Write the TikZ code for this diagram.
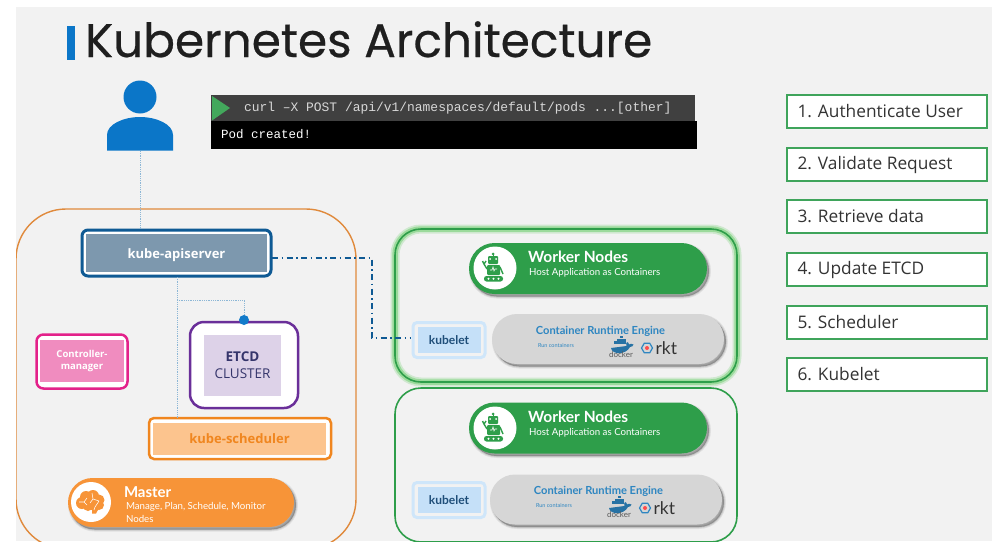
\documentclass[tikz,border=0pt]{standalone}
\usepackage{fontspec}
\setmainfont{Open Sans}
\newfontfamily\titlef[AutoFakeBold=0.5]{Poppins}
\newfontfamily\latof{Lato}
\newfontfamily\termf{Liberation Mono}
\usetikzlibrary{shadows,calc}
\newcommand\fs[1]{\fontsize{#1}{#1}\selectfont}
\definecolor{pagebg}{HTML}{F2F2F2}
\definecolor{kblue}{HTML}{0B76C8}
\definecolor{apiblue}{HTML}{0F5A94}
\definecolor{apifill}{HTML}{7D98AE}
\definecolor{morange}{HTML}{E08A3C}
\definecolor{schedo}{HTML}{F0861F}
\definecolor{schedf}{HTML}{FCC48E}
\definecolor{pillo}{HTML}{F79438}
\definecolor{pinkb}{HTML}{E3218A}
\definecolor{pinkf}{HTML}{F08CBF}
\definecolor{purp}{HTML}{6A2F99}
\definecolor{purpf}{HTML}{DDD2E8}
\definecolor{etcdt}{HTML}{35356B}
\definecolor{wgreen}{HTML}{2E9E4A}
\definecolor{kubb}{HTML}{CFE6FA}
\definecolor{kubf}{HTML}{C5E0F8}
\definecolor{kubt}{HTML}{1F4E79}
\definecolor{crefill}{HTML}{D6D6D6}
\definecolor{cret}{HTML}{2E86C1}
\definecolor{stepg}{HTML}{3FA45B}
\definecolor{dotline}{HTML}{8DB7D6}
\definecolor{termbar}{HTML}{404040}
\definecolor{termtxt}{HTML}{D8D8D8}
\tikzset{
  every node/.style={inner sep=0pt,outer sep=0pt},
  softshadow/.style={
    general shadow={shadow xshift=2pt,shadow yshift=-2.5pt,draw=black,fill=black,line width=4pt,opacity=.07},
    general shadow={shadow xshift=2pt,shadow yshift=-2.5pt,draw=black,fill=black,line width=2pt,opacity=.10},
    general shadow={shadow xshift=2pt,shadow yshift=-2.5pt,fill=black,opacity=.15}},
  glow/.style={
    preaction={draw=green!70!black,line width=9pt,opacity=.14},
    preaction={draw=green!70!black,line width=5.5pt,opacity=.25}},
  sized/.style 2 args={minimum width=#1,minimum height=#2},
  dotconn/.style={dotline,densely dotted,line width=.8pt},
  apiconn/.style={apiblue,line width=1.2pt,dash pattern=on 6pt off 3.5pt on 1.5pt off 3.5pt},
  stepbox/.style={draw=stepg,line width=1.4pt,fill=white,sized={200pt}{33pt}},
  steptxt/.style={anchor=west,font=\fs{17.3},text=black!80},
  wpill/.style={fill=wgreen,rounded corners=25.5pt,sized={238pt}{51pt},softshadow},
  crepill/.style={fill=crefill,rounded corners=25pt,sized={232pt}{50pt},softshadow},
  kubout/.style={draw=kubb,line width=3pt,rounded corners=4pt,fill=pagebg,sized={72pt}{35pt}},
  kubin/.style={fill=kubf,sized={63pt}{26pt},font=\latof\bfseries\fs{12},text=kubt},
  wbox/.style={draw=wgreen,line width=1.6pt,rounded corners=26pt,sized={342pt}{153pt}},
  whead/.style={anchor=west,font=\latof\bfseries\fs{15.5},text=white},
  wsub/.style={anchor=west,font=\latof\fs{9.7},text=white},
  cretxt/.style={font=\latof\bfseries\fs{11.1},text=cret},
  runtxt/.style={anchor=west,font=\latof\fs{5.5},text=cret},
  dockertxt/.style={font=\latof\fs{8},text=black!65},
  rkttxt/.style={anchor=west,font=\latof\fs{17.5},text=black!80},
  pics/robot/.style={code={
    \fill[white] (0,0) circle (21.5pt);
    \fill[wgreen] (-2,-14) circle (1.5pt);
    \draw[wgreen,line width=1pt] (-2,-14) -- (-2,-11);
    \fill[wgreen,rounded corners=1pt] (-7,-12) rectangle (3,-4);
    \fill[white] (-5,-9) circle (1pt) (1,-9) circle (1pt);
    \fill[wgreen,rounded corners=1pt] (-8,-3) rectangle (5,7);
    \draw[white,line width=.6pt] (-5,2) -- (-3,2) -- (-2,-1) -- (-1,3) -- (0,1) -- (2,1);
    \draw[wgreen,line width=1.4pt] (-8,1) -- (-11,-4) (-12.5,-7) -- (-11,-4) -- (-9,-7);
    \draw[wgreen,line width=1.4pt] (5,-1) -- (8,6);
    \fill[wgreen,rounded corners=2.5pt] (-11,8) rectangle (8,13.5);
    \fill[white] (-6.5,10.7) circle (1.1pt) (-1.5,10.7) circle (1.1pt) (3.5,10.7) circle (1.1pt);
  }},
  pics/whale/.style={code={
    \fill[cret!85!black] (-11,2) .. controls (-10,9) and (4,9) .. (8,1) .. controls (10,1) and (11,0) .. (11.5,-1.5) .. controls (10,-2.5) and (8,-2.5) .. (7,-1.5) .. controls (7,-3) and (6,-4) .. (5,-4) .. controls (4,-3) and (4,-1.5) .. (4.5,0) -- cycle;
    \foreach \x in {-8,-5,-2,1} {\fill[cret!85!black] (\x,-2.5) rectangle ++(2.5pt,2.2pt);}
    \foreach \x in {-5,-2,1} {\fill[cret!85!black] (\x,-5.2) rectangle ++(2.5pt,2.2pt);}
    \fill[cret!85!black] (-2,-7.9) rectangle ++(2.5pt,2.2pt);
  }},
  pics/rktlogo/.style={code={
    \draw[cret,line width=1.2pt] (0:5.5pt) -- (60:5.5pt) -- (120:5.5pt) -- (180:5.5pt) -- (240:5.5pt) -- (300:5.5pt) -- cycle;
    \fill[red!60!pink] (0,0) circle (2pt);
  }},
  pics/brain/.style={code={
    \fill[pillo] (-5,-5) circle (6pt) (2,-6) circle (6pt) (8,-2) circle (5.5pt) (-9,1) circle (6pt) (0,0) circle (8pt) (8,3) circle (5pt) (-3,4) circle (5pt);
    \fill[pillo] (1,3) -- (8,6) -- (5,11.5) -- (1,11.5) -- cycle;
    \draw[white,line width=.55pt] (-12,0) -- (-7,0) -- (-4,-4) (-7,0) -- (-4,3) (1,-9) -- (2,-3) -- (-1,1) (2,-3) -- (8,-1) (8,-1) -- (4,5) -- (3,8);
  }},
}
\begin{document}
\begin{tikzpicture}[x=1pt,y=-1pt]
\useasboundingbox (0,0) rectangle (992,554);
\fill[white] (0,0) rectangle (992,554);
\fill[pagebg] (16,7) rectangle (992,541);

% title
\fill[kblue] (67,26) rectangle (75,60);
\node[anchor=base west,font=\titlef\bfseries\fs{47},text=black!88] (title) at (85,57) {Kubernetes Architecture};

% user
\node[sized={66pt}{71pt}] (user) at (140,115.5) {};
\fill[kblue] (140,97) circle (16.5pt);
\fill[kblue] (107,150.5) -- (107,135) .. controls (107,124) and (124,117) .. (140,117) .. controls (156,117) and (173,124) .. (173,135) -- (173,150.5) -- cycle;

% terminal
\node[fill=termbar,sized={484pt}{26pt}] (bar) at (453,108) {};
\node[fill=black,sized={486pt}{28pt}] (term) at (454,135) {};
\fill[wgreen!90!white] (212,96) -- (230,108) -- (212,120.5) -- cycle;
\node[anchor=west,font=\termf\fs{12.95},text=termtxt] (cmd) at (244,108) {curl –X POST /api/v1/namespaces/default/pods ...[other]};
\node[anchor=west,font=\termf\fs{12.5},text=white] (pod) at (221,134.5) {Pod created!};

% master
\begin{scope}
\clip (16,7) rectangle (992,541);
\node[draw=morange,line width=1.4pt,rounded corners=50pt,sized={340pt}{340pt}] (master) at (186,379) {};
\node[wbox,sized={342pt}{154pt}] (wbox2) at (566,465) {};
\end{scope}

\node[draw=apiblue,line width=3pt,rounded corners=6pt,fill=white,sized={189pt}{46pt}] (api) at (176.5,253) {};
\node[fill=apifill,sized={181pt}{38pt},font=\bfseries\fs{13},text=white,text height=12.5pt,text depth=2.5pt] (apit) at (176.5,253) {kube-apiserver};

\node[draw=pinkb,line width=2.5pt,rounded corners=7pt,fill=white,sized={91pt}{54pt}] (ctrl) at (82,361.5) {};
\node[fill=pinkf,sized={84pt}{42pt},font=\bfseries\fs{9.5},align=center,text=white] (ctrlt) at (82,361) {Controller-\\[2pt]manager};

\node[draw=purp,line width=2.5pt,rounded corners=14pt,fill=white,sized={108pt}{86pt}] (etcd) at (244,365) {};
\node[fill=purpf,sized={77pt}{61pt},align=center,text=etcdt] (etcdt) at (242.5,365.5) {\bfseries\fs{13.5}ETCD\\[5pt]\fs{13.5}CLUSTER};

\node[draw=schedo,line width=2.5pt,rounded corners=5pt,fill=white,sized={182pt}{41pt}] (sched) at (240,438.5) {};
\node[fill=schedf,sized={173pt}{32pt},font=\bfseries\fs{13},text=schedo] (schedt) at (239.5,439) {kube-scheduler};

\node[fill=pillo,rounded corners=24.5pt,sized={226pt}{49pt},softshadow] (mpill) at (181,502.5) {};
\fill[white] (91,502) circle (20pt);
\pic at (91,502) {brain};
\node[anchor=west,font=\latof\bfseries\fs{15},text=white] (mh) at (124,492) {Master};
\node[anchor=west,font=\latof\fs{9.7},text=white] (ms1) at (126,506.5) {Manage, Plan, Schedule, Monitor};
\node[anchor=west,font=\latof\fs{9.7},text=white] (ms2) at (126,518.5) {Nodes};

% worker 1
\node[wbox,glow,sized={342pt}{153pt}] (wbox1) at (566,305.5) {};
\node[wpill] (wp1) at (588,268.5) {};
\pic at (495,268) {robot};
\node[whead] (wh1) at (528,257) {Worker Nodes};
\node[wsub] (ws1) at (529,272.5) {Host Application as Containers};
\node[kubout] (ko1) at (449,340) {};
\node[kubin] (kubelet1) at (449,340) {kubelet};
\node[crepill] (cre1) at (608,339) {};
\node[cretxt] (ct1) at (600.5,331.5) {Container Runtime Engine};
\node[runtxt] (rc1) at (538,346) {Run containers};
\pic at (622,346) {whale};
\node[dockertxt] (dk1) at (621,355) {docker};
\pic at (647,348) {rktlogo};
\node[rkttxt] (rk1) at (655.5,348) {rkt};

% worker 2
\node[wpill] (wp2) at (588,428) {};
\pic at (495,428) {robot};
\node[whead] (wh2) at (528,417) {Worker Nodes};
\node[wsub] (ws2) at (529,432.5) {Host Application as Containers};
\node[kubout] (ko2) at (449,500) {};
\node[kubin] (kubelet2) at (449,500) {kubelet};
\node[crepill] (cre2) at (606,499.5) {};
\node[cretxt] (ct2) at (598.5,491.5) {Container Runtime Engine};
\node[runtxt] (rc2) at (536,506) {Run containers};
\pic at (620,506) {whale};
\node[dockertxt] (dk2) at (619,515) {docker};
\pic at (645,508) {rktlogo};
\node[rkttxt] (rk2) at (653.5,508) {rkt};

% connectors
\draw[dotconn] (user.south) -- (user.south |- api.north);
\coordinate (apidown) at (177,277);
\coordinate (tap) at (177,300);
\coordinate (etcdtop) at (244,320);
\draw[dotconn] (apidown) -- (apidown |- sched.north);
\draw[dotconn] (tap) -- (etcdtop |- tap) -- (etcdtop);
\fill[cyan!60!blue] (etcdtop) circle (5pt);
\coordinate (apiout) at (272,258);
\coordinate (bend) at (372,258);
\coordinate (kubin1) at (411,338);
\draw[apiconn] (apiout) -- (bend) -- (bend |- kubin1) -- (kubin1);

% steps
\node[stepbox] (s1) at (887,111.5) {};
\node[stepbox] (s2) at (887,164.5) {};
\node[stepbox] (s3) at (887,216.5) {};
\node[stepbox] (s4) at (887,269.5) {};
\node[stepbox] (s5) at (887,322.5) {};
\node[stepbox] (s6) at (887,374.5) {};
\node[steptxt] (t1) at (797.5,111.5) {1. Authenticate User};
\node[steptxt] (t2) at (797.5,165) {2. Validate Request};
\node[steptxt] (t3) at (797.5,216.5) {3. Retrieve data};
\node[steptxt] (t4) at (797.5,270) {4. Update ETCD};
\node[steptxt] (t5) at (797.5,322.5) {5. Scheduler};
\node[steptxt] (t6) at (797.5,374.5) {6. Kubelet};
\end{tikzpicture}
\end{document}
